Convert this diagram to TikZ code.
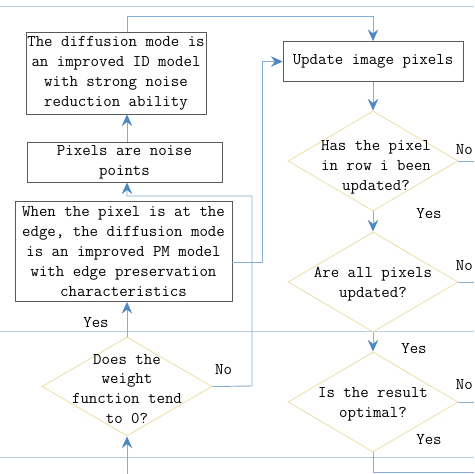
\documentclass[tikz,border=0pt]{standalone}
\usepackage{fontspec}
\usetikzlibrary{shapes.geometric,arrows.meta}
\definecolor{boxc}{HTML}{5A5A5A}
\definecolor{diac}{HTML}{EDE2AE}
\definecolor{linec}{HTML}{86ADD4}
\definecolor{tipc}{HTML}{4D88C6}
\definecolor{rulec}{HTML}{B7CBDD}
\begin{document}
\begin{tikzpicture}[x=0.03cm,y=-0.03cm,
  every node/.style={font=\ttfamily\fontsize{14}{17}\selectfont, text=black},
  box/.style={draw=boxc, line width=0.7pt, inner sep=0pt, align=center, fill=white},
  dia/.style={diamond, draw=diac, line width=0.8pt, inner sep=0pt, minimum width=5.1cm, minimum height=3cm},
  dtext/.style={align=center, inner sep=0pt},
  lab/.style={inner sep=0pt},
  conn/.style={draw=linec, line width=0.8pt},
  arr/.style={conn, -{Stealth[length=10pt,width=9pt,inset=3.5pt,color=tipc,fill=tipc]}},
  rule/.style={draw=rulec, line width=0.8pt}]
\useasboundingbox (0,0) rectangle (474,474);
\clip (0,0) rectangle (474,474);
% full-width rules
\draw[rule] (0,6) -- (474,6);
\draw[rule] (0,331) -- (474,331);
\draw[rule] (0,457) -- (474,457);
% boxes
\node[box, minimum width=5.4cm, minimum height=2.46cm] (id) at (116,73)
  {The diffusion mode is\\an improved ID model\\with strong noise\\reduction ability};
\node[box, minimum width=5.85cm, minimum height=1.2cm] (pix) at (124.5,162)
  {Pixels are noise\\points};
\node[box, minimum width=6.51cm, minimum height=3cm] (pm) at (123.5,251.5)
  {When the pixel is at the\\edge, the diffusion mode\\is an improved PM model\\with edge preservation\\characteristics};
\node[box, minimum width=5.4cm, minimum height=1.2cm] (upd) at (373,61.5)
  {Update image pixels};
% diamonds
\node[dia] (d1) at (373,161) {};
\node[dtext] (t1) at (376,167) {Has the pixel\\in row i been\\updated?};
\node[dia] (d2) at (373,282) {};
\node[dtext] (t2) at (373,284) {Are all pixels\\updated?};
\node[dia] (d3) at (373,402) {};
\node[dtext] (t3) at (373,404) {Is the result\\optimal?};
\node[dia, minimum height=2.97cm] (dw) at (127,386.5) {};
\node[dtext] (tw) at (127,389) {Does the\\weight\\function tend\\to 0?};
% coordinates
\coordinate (c1) at (127,16);
\coordinate (c2) at (373,16);
\coordinate (c3) at (252,386);
\coordinate (c4) at (252,196);
\coordinate (c5) at (127,196);
\coordinate (c6) at (262,262);
\coordinate (c7) at (127,474);
\coordinate (e1) at (474,161);
\coordinate (e2) at (474,282);
\coordinate (e3) at (474,402);
\coordinate (c8) at (373,472);
\coordinate (e4) at (474,472);
% connectors
\draw[arr] (c1 |- id.north) -- (c1) -- (c2) -- (upd.north);
\draw[arr] (c1 |- pix.north) -- (c1 |- id.south);
\draw[arr] (dw.east) -- (c3) -- (c4) -- (c5) -- (c5 |- pix.south);
\draw[arr] (c6 -| pm.east) -- (c6) -- (c6 |- upd.west) -- (upd.west);
\draw[arr] (dw.north) -- (dw.north |- pm.south);
\draw[arr] (c7) -- (dw.south);
\draw[arr] (upd.south) -- (d1.north);
\draw[arr] (d1.south) -- (d2.north);
\draw[arr] (d2.south) -- (d3.north);
\draw[conn] (d1.east) -- (e1);
\draw[conn] (d2.east) -- (e2);
\draw[conn] (d3.east) -- (e3);
\draw[conn] (d3.south) -- (c8) -- (e4);
% labels
\node[lab, anchor=east] (n1) at (473,150) {No};
\node[lab] (y1) at (429,214) {Yes};
\node[lab, anchor=east] (n2) at (473,266) {No};
\node[lab] (y2) at (414,349) {Yes};
\node[lab, anchor=east] (n3) at (473,385) {No};
\node[lab] (y3) at (429,440) {Yes};
\node[lab] (n4) at (223.5,370) {No};
\node[lab] (y4) at (96,323) {Yes};
\end{tikzpicture}
\end{document}
